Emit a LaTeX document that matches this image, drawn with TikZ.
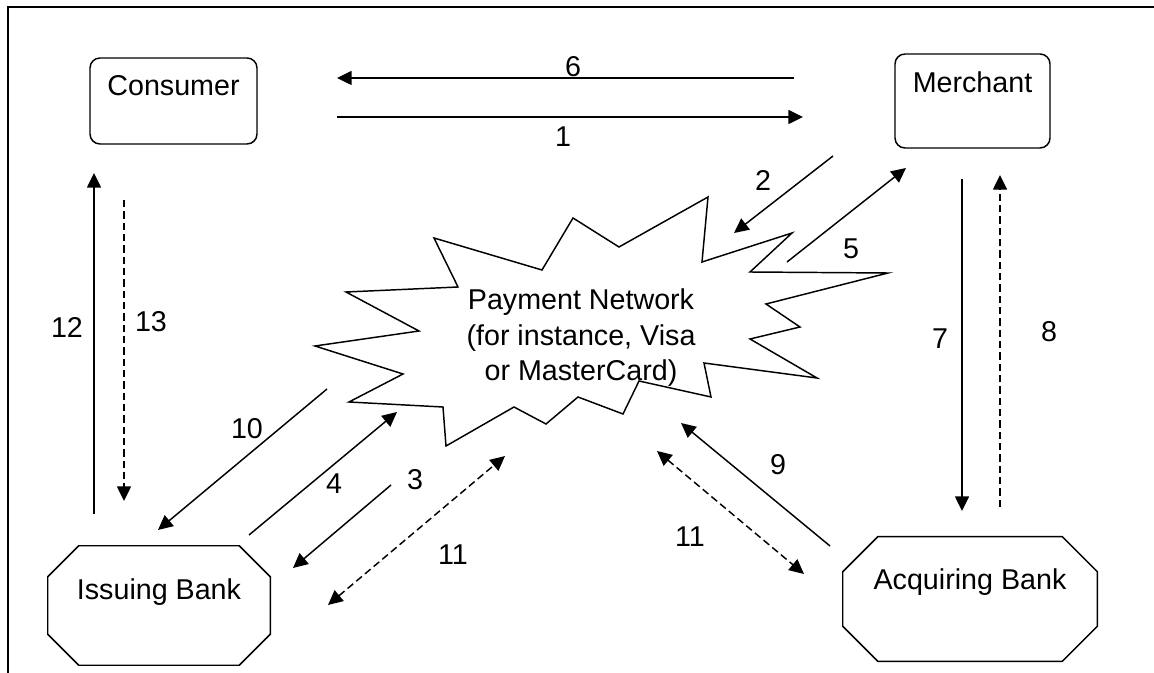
\documentclass[tikz,border=0pt]{standalone}
\usepackage{fontspec}
\setmainfont{Liberation Sans}
\usepackage{tikz}
\usetikzlibrary{arrows.meta}

\tikzset{
    party/.style={draw, line width=1.1pt, rounded corners=7.5pt, inner sep=0pt},
    bank/.style={inner sep=0pt},
    num/.style={inner sep=0pt},
    flow/.style={line width=1.1pt, -{Triangle[length=11pt, width=10.5pt]}},
    both/.style={line width=1.1pt, {Triangle[length=11pt, width=10.5pt]}-{Triangle[length=11pt, width=10.5pt]}},
    reply/.style={dash pattern=on 5.5pt off 3pt}
}

\begin{document}
\begin{tikzpicture}[x=0.75pt, y=-0.75pt, font=\fontsize{21.5}{26.6}\selectfont]
    \useasboundingbox (0,0) rectangle (1154,673);
    \draw[line width=1.5pt] (8,673) -- (8,7) -- (1154,7);
    % the four parties
    \node[party, minimum width=125.25pt, text height=28.1pt, text depth=36.4pt]
        (consumer) at (173.5,101) {Consumer};
    \node[party, minimum width=116.25pt, text height=28.9pt, text depth=41.6pt]
        (merchant) at (972.5,101) {Merchant};
    \node[bank, minimum width=166.5pt, text height=40.1pt, text depth=49.1pt]
        (issuer) at (159,605.5) {Issuing Bank};
    \node[bank, minimum width=190.5pt, text height=39.4pt, text depth=53.6pt]
        (acquirer) at (970,599) {Acquiring Bank};
    \foreach \b/\c in {issuer/23.25pt, acquirer/26.25pt} {
        \draw[line width=1.1pt]
            ([xshift=\c]\b.north west) -- ([xshift=-\c]\b.north east)
            -- ([yshift=-\c]\b.north east) -- ([yshift=\c]\b.south east)
            -- ([xshift=-\c]\b.south east) -- ([xshift=\c]\b.south west)
            -- ([yshift=\c]\b.south west) -- ([yshift=-\c]\b.north west) -- cycle;
    }
    % the payment network burst
    \draw[line width=1.1pt]
        (434,238) -- (542,270) -- (573,218) -- (619,247) -- (708,197)
        -- (702,262) -- (792,233) -- (750,272) -- (888,273) -- (766,304)
        -- (800,327) -- (750,339) -- (817,378) -- (704,363) -- (711,397)
        -- (639,381) -- (623,414) -- (578,397) -- (546,424) -- (514,407)
        -- (446,446) -- (443,407) -- (349,402) -- (403,374) -- (315,346)
        -- (419,331) -- (346,292) -- (458,287) -- cycle;
    \node[align=center] (network) at (581,338)
        {Payment Network\\(for instance, Visa\\or MasterCard)};
    % ends of the message arrows
    \foreach \n/\x/\y in {s6/794/78, t6/337/78, s1/337/117, t1/803/117,
                          s2/833/156, t2/734/233, s5/787/262, t5/906/168,
                          s7/962/179, t7/962/511, s8/1000/507, t8/1000/175,
                          s9/830/546, t9/681/423, sr/657/451, tr/804/574,
                          s12/94/514, t12/94/173, s13/124/200, t13/124/501,
                          s10/327/389, t10/158/530, s4/249/535, t4/397/412,
                          s3/391/485, t3/293/568, sl/328/605, tl/505/456} {
        \coordinate (\n) at (\x,\y);
    }
    \foreach \s/\t in {s6/t6, s1/t1, s2/t2, s5/t5, s7/t7, s9/t9,
                       s12/t12, s10/t10, s4/t4, s3/t3} {
        \draw[flow] (\s) -- (\t);
    }
    \foreach \s/\t in {s8/t8, s13/t13} {
        \draw[flow, reply] (\s) -- (\t);
    }
    \foreach \s/\t in {sr/tr, sl/tl} {
        \draw[both, reply] (\s) -- (\t);
    }
    % step numbers
    \foreach \n/\x/\y/\t in {n6/573/67/6, n1/563/137/1, n2/763/180/2,
                             n5/851/249/5, n7/940/339/7, n8/1049/332/8,
                             n9/778/465/9, nr/690/537/11, n12/67/327/12,
                             n13/151/322/13, n10/247/429/10, n4/334/484/4,
                             n3/415/480/3, nl/453/555/11} {
        \node[num] (\n) at (\x,\y) {\t};
    }
\end{tikzpicture}
\end{document}
